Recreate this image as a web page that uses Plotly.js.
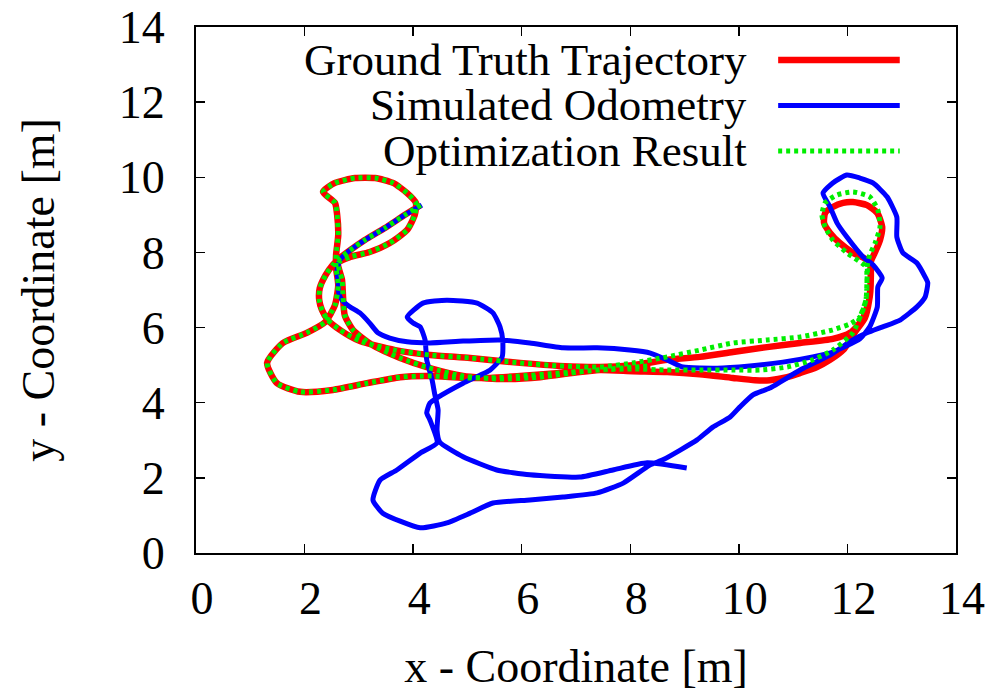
<!DOCTYPE html>
<html>
<head>
<meta charset="utf-8">
<script src="https://cdn.plot.ly/plotly-3.0.1.min.js"></script>
<style>html,body{margin:0;padding:0;background:#fff;}#chart{width:989px;height:692px;}</style>
</head>
<body>
<div id="chart"></div>
<script>
// Series names (legend)
const seriesNames = ["Ground Truth Trajectory", "Simulated Odometry", "Optimization Result"];

// Ground truth trajectory (red)
const gtX = [4.14,3.85,3.48,3.11,2.84,2.65,2.52,2.39,2.28,2.27,2.32,2.43,2.65,3.02,3.67,4.31,5.05,5.97,6.70,7.44,8.05,8.68,9.28,9.89,10.52,11.13,11.73,12.05,12.27,12.40,12.43,12.41,
  12.10,11.86,11.68,11.57,11.59,11.73,11.92,12.10,12.36,12.55,12.64,12.60,12.51,12.43,
  12.43,12.40,12.32,12.14,12.05,11.92,11.68,11.44,11.13,10.89,10.57,10.30,9.89,9.28,8.68,8.05,7.44,6.70,5.97,5.42,4.92,4.31,3.76,3.15,2.52,1.92,1.49,1.31,1.60,2.04,2.38,2.56,2.62,2.58,2.58,
  2.62,2.60,2.56,2.34,2.56,2.93,3.30,3.63,3.89,4.05,4.03,3.89,3.57,3.20,2.84,2.62,
  2.69,2.71,2.74,2.89,3.24,3.76,4.31,4.92,5.60,6.34,7.07,7.81,8.37];
const gtY = [9.26,9.00,8.65,8.33,8.06,7.85,7.67,7.40,7.05,6.73,6.47,6.20,5.94,5.64,5.40,5.27,5.19,5.06,4.98,4.95,5.00,5.14,5.22,5.35,5.48,5.59,5.70,5.86,6.20,6.73,7.27,7.75,
  7.99,8.25,8.52,8.78,9.05,9.21,9.32,9.34,9.26,9.05,8.68,8.33,8.01,7.75,
  7.27,6.73,6.25,5.88,5.67,5.40,5.14,4.95,4.79,4.68,4.60,4.60,4.66,4.76,4.82,4.84,4.87,4.79,4.71,4.66,4.66,4.71,4.68,4.52,4.34,4.29,4.52,5.06,5.59,5.86,6.15,6.60,7.13,7.59,7.93,
  8.46,9.00,9.32,9.61,9.85,9.98,9.98,9.85,9.58,9.32,9.00,8.60,8.25,8.01,7.88,7.72,
  7.27,6.79,6.33,5.94,5.54,5.19,4.92,4.71,4.63,4.68,4.82,4.92,4.98];

// Simulated odometry (blue)
const odoX = [4.16,3.85,3.48,3.11,2.84,2.65,2.60,2.62,2.63,2.69,2.84,3.02,3.20,3.35,3.57,3.89,4.31,4.92,5.60,6.15,6.76,7.39,7.99,8.37,8.68,8.97,9.60,10.20,10.81,11.36,11.73,12.23,12.41,12.55,12.56,12.64,12.47,12.29,11.99,11.81,11.68,11.55,11.73,11.99,12.23,12.47,12.73,12.91,12.91,13.02,13.28,13.43,13.48,13.43,13.28,12.97,12.65,12.36,12.10,
  11.68,11.13,10.57,10.26,10.02,9.84,9.52,9.23,8.92,8.60,8.36,
  7.87,7.39,6.76,6.15,5.47,5.05,4.62,4.13,3.44,3.26,3.39,3.70,4.13,4.44,4.31,4.25,4.31,4.44,
  4.92,5.42,5.64,5.65,5.60,5.47,5.18,4.62,4.18,3.89,4.00,4.13,4.22,4.25,4.35,4.40,4.46,4.44,4.49,
  4.92,5.54,6.15,7.07,7.68,8.31,9.04];
const odoY = [9.26,9.00,8.65,8.33,8.06,7.80,7.53,7.19,6.92,6.73,6.55,6.39,6.12,5.86,5.72,5.62,5.59,5.64,5.67,5.59,5.46,5.46,5.40,5.32,5.14,4.95,4.92,4.98,5.08,5.22,5.35,5.70,6.02,6.55,7.08,7.32,7.67,7.88,8.41,8.78,9.21,9.58,9.85,10.06,9.98,9.85,9.48,8.94,8.41,7.99,7.72,7.35,7.19,6.81,6.55,6.20,6.02,5.86,5.67,
  5.27,4.87,4.39,4.21,3.89,3.62,3.35,3.01,2.74,2.48,2.34,
  1.86,1.60,1.49,1.41,1.33,1.06,0.80,0.67,1.06,1.41,1.94,2.21,2.66,2.93,3.54,3.73,3.99,4.13,
  4.52,4.87,5.22,5.67,6.02,6.39,6.65,6.73,6.65,6.28,6.12,6.02,5.67,5.14,4.60,4.21,3.81,3.27,2.95,
  2.56,2.21,2.08,2.02,2.21,2.40,2.26];

// Optimization result (green)
const optX = [4.14,3.85,3.48,3.11,2.84,2.65,2.52,2.39,2.28,2.27,2.32,2.43,2.65,3.02,3.67,4.31,5.05,5.97,6.70,7.44,8.05,8.68,9.28,9.89,10.52,11.13,11.73,12.05,12.23,12.34,12.36,12.36,
  11.99,11.73,11.59,11.53,11.59,11.81,12.10,12.41,12.56,12.60,12.51,12.41,12.36,
  12.36,12.34,12.23,12.10,11.73,11.36,10.89,10.39,9.89,9.28,8.68,8.05,7.44,6.70,5.97,5.42,4.92,4.31,3.76,3.15,2.52,1.92,1.49,1.31,1.60,2.04,2.38,2.56,2.62,2.58,2.58,
  2.62,2.60,2.56,2.34,2.56,2.93,3.30,3.63,3.89,4.05,4.03,3.89,3.57,3.20,2.84,2.62,
  2.69,2.71,2.74,2.89,3.24,3.76,4.31,4.92,5.60,6.34,7.07,7.81,8.37];
const optY = [9.26,9.00,8.65,8.33,8.06,7.85,7.67,7.40,7.05,6.73,6.47,6.20,5.94,5.64,5.40,5.27,5.19,5.06,4.98,4.95,5.06,5.22,5.40,5.59,5.67,5.75,5.94,6.10,6.28,6.73,7.27,7.59,
  7.99,8.33,8.68,9.00,9.32,9.53,9.61,9.48,9.13,8.68,8.25,7.93,7.59,
  7.13,6.73,6.28,5.86,5.40,5.14,4.95,4.87,4.87,4.87,4.87,4.90,4.87,4.79,4.71,4.66,4.66,4.71,4.68,4.52,4.34,4.29,4.52,5.06,5.59,5.86,6.15,6.60,7.13,7.59,7.93,
  8.46,9.00,9.32,9.61,9.85,9.98,9.98,9.85,9.58,9.32,9.00,8.60,8.25,8.01,7.88,7.72,
  7.27,6.79,6.33,5.94,5.54,5.19,4.92,4.71,4.63,4.68,4.82,4.92,4.98];

const xTicks = [0,2,4,6,8,10,12,14];
const yTicks = [0,2,4,6,8,10,12,14];
const colors = ["#ff0000", "#0000ff", "#00ee00"];

const FONT = "Liberation Serif, Times New Roman, serif";
const FS = 46;

const traces = [
  {x: gtX, y: gtY, mode: "lines", name: seriesNames[0], line: {color: colors[0], width: 6.5, shape: "spline", smoothing: 0.6}},
  {x: odoX, y: odoY, mode: "lines", name: seriesNames[1], line: {color: colors[1], width: 5, shape: "spline", smoothing: 0.5}},
  {x: optX, y: optY, mode: "lines", name: seriesNames[2], line: {color: colors[2], width: 5, dash: "4px,4px", shape: "spline", smoothing: 0.6}}
];

const axisCommon = {
  range: [0, 14], tickvals: xTicks, ticktext: xTicks.map(String),
  ticks: "inside", ticklen: 9, tickwidth: 1.5, tickcolor: "#000",
  showline: true, linecolor: "#000", linewidth: 2, mirror: "ticks",
  showgrid: false, zeroline: false, fixedrange: true,
  tickfont: {family: FONT, size: FS, color: "#000"}
};

// Legend drawn as annotations + line samples (text on the left, gnuplot style)
const legY = [0.9373, 0.8508, 0.7643];
const annotations = seriesNames.map((n, i) => ({
  xref: "paper", yref: "paper", x: 0.728, y: legY[i], xanchor: "right", yanchor: "middle",
  text: n, showarrow: false, font: {family: FONT, size: 45, color: "#000"}
}));
const shapes = seriesNames.map((n, i) => ({
  type: "line", xref: "paper", yref: "paper", x0: 0.766, x1: 0.926, y0: legY[i], y1: legY[i],
  line: {color: traces[i].line.color, width: traces[i].line.width, dash: traces[i].line.dash || "solid"}
}));

const layout = {
  width: 989, height: 692,
  margin: {l: 196, r: 33, t: 27, b: 139},
  paper_bgcolor: "#fff", plot_bgcolor: "#fff",
  showlegend: false,
  xaxis: Object.assign({}, axisCommon, {
    ticklabelstandoff: 4, ticklabelshift: 6,
    title: {text: "x - Coordinate [m]", font: {family: FONT, size: FS, color: "#000"}, standoff: 27}
  }),
  yaxis: Object.assign({}, axisCommon, {
    tickvals: yTicks, ticktext: yTicks.map(String),
    ticklabelstandoff: 20,
    title: {text: "y - Coordinate [m]", font: {family: FONT, size: FS, color: "#000"}, standoff: 50}
  }),
  annotations: annotations,
  shapes: shapes
};

Plotly.newPlot("chart", traces, layout, {staticPlot: true, displayModeBar: false});
</script>
</body>
</html>
